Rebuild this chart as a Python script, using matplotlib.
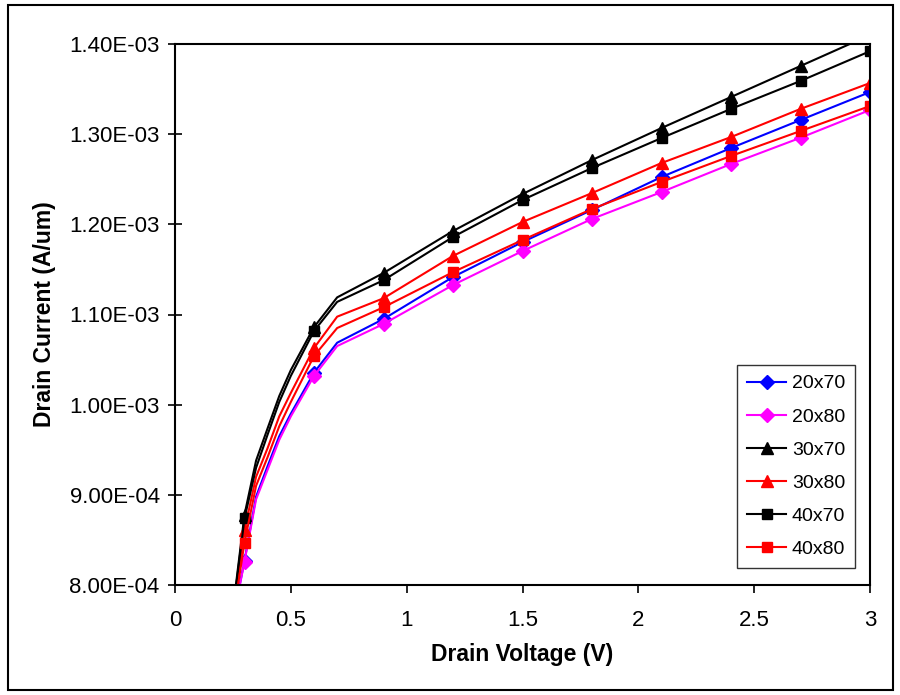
import matplotlib
matplotlib.use("Agg")
import matplotlib.pyplot as plt
from matplotlib.ticker import FuncFormatter, MultipleLocator
from matplotlib.patches import Rectangle

plt.rcParams['font.family'] = ['Liberation Sans', 'DejaVu Sans']

# Drain voltage sample points (V)
voltage = [0.25, 0.3, 0.35, 0.4, 0.45, 0.5, 0.6, 0.7, 0.9, 1.2, 1.5, 1.8, 2.1, 2.4, 2.7, 3.0]
# indices that carry a marker (every 0.3 V)
marker_idx = [1, 6, 8, 9, 10, 11, 12, 13, 14, 15]

# Drain current (A/um)
i_20x70 = [7.62e-4, 8.27e-4, 8.98e-4, 9.32e-4, 9.65e-4, 9.90e-4, 1.0355e-3, 1.0687e-3, 1.095e-3,
           1.1416e-3, 1.1804e-3, 1.216e-3, 1.2525e-3, 1.2846e-3, 1.3157e-3, 1.3467e-3]
i_20x80 = [7.61e-4, 8.26e-4, 8.95e-4, 9.28e-4, 9.61e-4, 9.87e-4, 1.0318e-3, 1.065e-3, 1.0895e-3,
           1.1327e-3, 1.1704e-3, 1.206e-3, 1.2358e-3, 1.2669e-3, 1.296e-3, 1.3268e-3]
i_30x70 = [7.73e-4, 8.78e-4, 9.38e-4, 9.74e-4, 1.0096e-3, 1.0384e-3, 1.086e-3, 1.119e-3, 1.146e-3,
           1.1926e-3, 1.2336e-3, 1.2713e-3, 1.3068e-3, 1.3412e-3, 1.3756e-3, 1.410e-3]
i_30x80 = [7.66e-4, 8.61e-4, 9.20e-4, 9.52e-4, 9.87e-4, 1.013e-3, 1.0628e-3, 1.0976e-3, 1.118e-3,
           1.165e-3, 1.2026e-3, 1.2347e-3, 1.268e-3, 1.2968e-3, 1.328e-3, 1.3567e-3]
i_40x70 = [7.70e-4, 8.74e-4, 9.30e-4, 9.67e-4, 1.003e-3, 1.032e-3, 1.0817e-3, 1.114e-3, 1.138e-3,
           1.186e-3, 1.227e-3, 1.2625e-3, 1.2957e-3, 1.328e-3, 1.359e-3, 1.392e-3]
i_40x80 = [7.63e-4, 8.47e-4, 9.10e-4, 9.42e-4, 9.76e-4, 1.003e-3, 1.054e-3, 1.085e-3, 1.108e-3,
           1.147e-3, 1.1826e-3, 1.217e-3, 1.247e-3, 1.2758e-3, 1.3035e-3, 1.3312e-3]

labels = ['20x70', '20x80', '30x70', '30x80', '40x70', '40x80']
series = [i_20x70, i_20x80, i_30x70, i_30x80, i_40x70, i_40x80]
colors = ['#0000FF', '#FF00FF', '#000000', '#FF0000', '#000000', '#FF0000']
markers = ['D', 'D', '^', '^', 's', 's']
msizes = [7.5, 7.5, 9, 9, 7.5, 7.5]

fig = plt.figure(figsize=(9, 6.95), dpi=100)
ax = fig.add_axes([175/900, 1-585/695, (870-175)/900, (585-44)/695])

for lab, ys, c, m, ms in zip(labels, series, colors, markers, msizes):
    ax.plot(voltage, ys, color=c, lw=1.5, marker=m, markersize=ms,
            markevery=marker_idx, markerfacecolor=c, markeredgecolor=c,
            label=lab, clip_on=True)

ax.set_xlim(0, 3)
ax.set_ylim(8.0e-4, 1.4e-3)
ax.xaxis.set_major_locator(MultipleLocator(0.5))
ax.yaxis.set_major_locator(MultipleLocator(1e-4))
ax.xaxis.set_major_formatter(FuncFormatter(lambda v, p: f"{v:g}"))
ax.yaxis.set_major_formatter(FuncFormatter(lambda v, p: f"{v:.2E}"))
ax.yaxis.get_offset_text().set_visible(False)

for s in ax.spines.values():
    s.set_linewidth(1.5)
    s.set_color('black')

ax.tick_params(axis='y', direction='inout', length=10, width=1.2, labelsize=16, pad=6)
ax.tick_params(axis='x', direction='out', length=6, width=1.2, labelsize=16, pad=12)

ax.set_xlabel('Drain Voltage (V)', fontsize=16.5, fontweight='bold', va='center')
ax.set_ylabel('Drain Current (A/um)', fontsize=16.5, fontweight='bold', va='center')
ax.xaxis.set_label_coords(0.5, (585-655)/541)
ax.yaxis.set_label_coords((45-175)/695, 0.5)

leg = ax.legend(loc='lower right', bbox_to_anchor=((855-175)/695, (585-568)/541),
                fontsize=14, frameon=True, fancybox=False, edgecolor='black',
                handlelength=2.0, labelspacing=0.8, borderpad=0.5, handletextpad=0.3,
                borderaxespad=0)
leg.get_frame().set_linewidth(1.0)

fig.patches.append(Rectangle((8/900, 1-690/695), 885/900, 685/695, transform=fig.transFigure,
                             fill=False, edgecolor='black', lw=1.5))

fig.savefig('out.png', dpi=100)
